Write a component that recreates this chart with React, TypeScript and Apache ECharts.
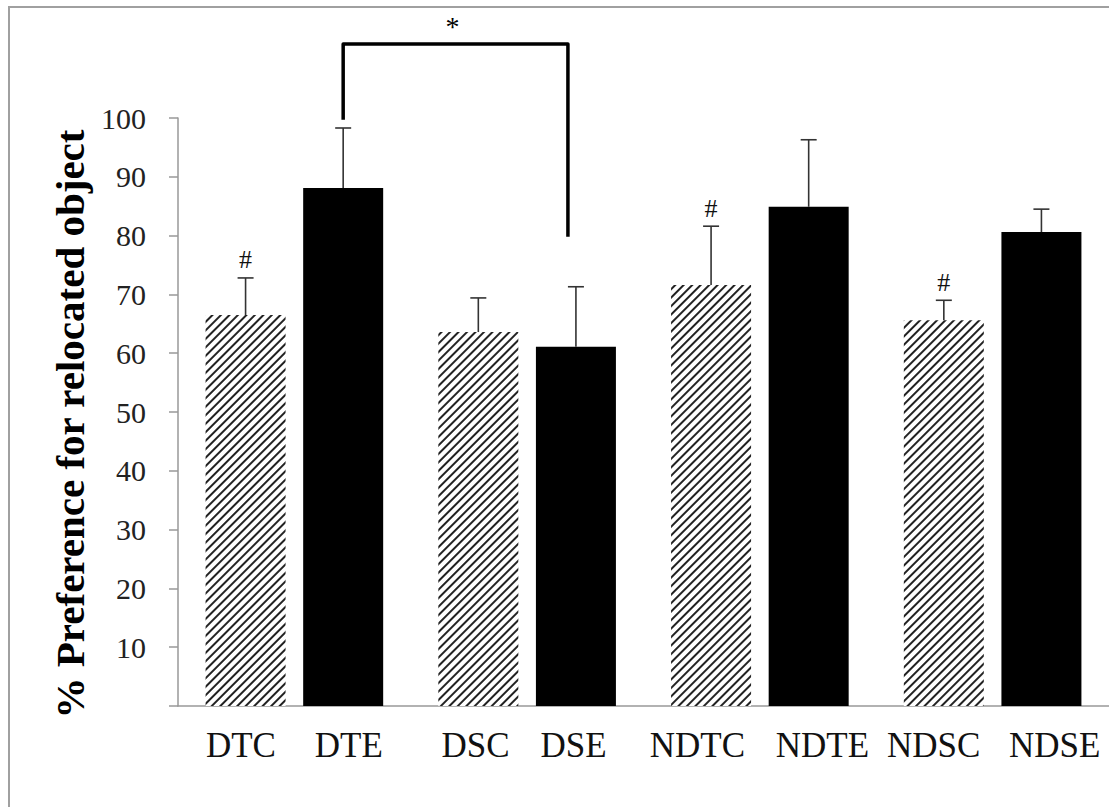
import React, { useEffect, useRef } from "react";
import * as echarts from "echarts";

// ---- data ----
const categories = ["DT", "DS", "NDT", "NDS"];
const tickLabels = ["DTC", "DTE", "DSC", "DSE", "NDTC", "NDTE", "NDSC", "NDSE"];
const yTicks = [10, 20, 30, 40, 50, 60, 70, 80, 90, 100];
const controlMeans = [66.5, 63.6, 71.6, 65.6];
const controlErrors = [6.3, 5.8, 10.0, 3.4];
const experimentalMeans = [88.1, 61.1, 84.9, 80.6];
const experimentalErrors = [10.2, 10.2, 11.4, 3.9];
const controlMarks = ["#", "", "#", "#"];
const experimentalMarks = ["", "", "", ""];
// significance bracket: DTE vs DSE
const bracketCats = [0, 1];
const bracketLevel = 112.6;
const bracketEnds = [99.7, 79.8];
const bracketLabel = "*";
const yTitle = "% Preference for relocated object";

// ---- layout / style ----
const FONT = "Liberation Serif, Times New Roman, serif";
const BAR_W = 80;
const BAR_GAP = 0.22;
const OFFSET = (BAR_W + BAR_W * BAR_GAP) / 2;
const LABEL_W = [
  [109, 107],
  [93, 103],
  [125, 125],
  [124, 118],
];

export default function App() {
  const ref = useRef<HTMLDivElement>(null);
  useEffect(() => {
    if (!ref.current) return;
    const chart = echarts.init(ref.current, null, { renderer: "svg" });

    const rich: any = {};
    LABEL_W.forEach((w, i) => {
      rich["l" + i] = { width: w[0], align: "center", fontFamily: FONT, fontSize: 35, color: "#111" };
      rich["r" + i] = { width: w[1], align: "center", fontFamily: FONT, fontSize: 35, color: "#111" };
    });

    const errData: any[] = [];
    categories.forEach((_, i) => {
      errData.push({ value: [i, controlMeans[i], controlErrors[i], 0], mark: controlMarks[i] });
      errData.push({ value: [i, experimentalMeans[i], experimentalErrors[i], 1], mark: experimentalMarks[i] });
    });

    const option: any = {
      animation: false,
      backgroundColor: "#fff",
      textStyle: { fontFamily: FONT },
      grid: { left: 178, right: -3, top: 118, bottom: 101 },
      graphic: [
        {
          type: "rect",
          silent: true,
          shape: { x: 9, y: 7, width: 1140, height: 840 },
          style: { fill: "none", stroke: "#a0a0a0", lineWidth: 2 },
        },
      ],
      xAxis: {
        type: "category",
        data: categories,
        axisLine: { lineStyle: { color: "#999", width: 1.5 } },
        axisTick: { show: false },
        axisLabel: {
          margin: 22,
          interval: 0,
          fontFamily: FONT,
          fontSize: 35,
          formatter: (_v: string, i: number) =>
            `{l${i}|${tickLabels[2 * i]}}{r${i}|${tickLabels[2 * i + 1]}}`,
          rich,
        },
      },
      yAxis: {
        type: "value",
        min: 0,
        max: 100,
        interval: 10,
        splitLine: { show: false },
        axisLine: { show: true, lineStyle: { color: "#999", width: 1.5 } },
        axisTick: { show: true, length: 9, lineStyle: { color: "#999", width: 1.5 } },
        axisLabel: {
          margin: 32,
          fontFamily: FONT,
          fontSize: 30,
          color: "#222",
          formatter: (v: number) => (yTicks.indexOf(v) >= 0 ? String(v) : ""),
        },
        name: yTitle,
        nameLocation: "middle",
        nameGap: 82,
        nameTextStyle: {
          fontFamily: FONT,
          fontWeight: "bold",
          fontSize: 41,
          color: "#000",
          padding: [0, 24, 0, 0],
        },
      },
      series: [
        {
          name: "Control",
          type: "bar",
          data: controlMeans,
          barWidth: BAR_W,
          barGap: BAR_GAP * 100 + "%",
          itemStyle: {
            color: "#fff",
            decal: {
              symbol: "rect",
              symbolSize: 1,
              dashArrayX: [1, 0],
              dashArrayY: [1.8, 3.8],
              rotation: -Math.PI / 4,
              color: "#222",
              backgroundColor: "#fff",
            },
          },
        },
        {
          name: "Experimental",
          type: "bar",
          data: experimentalMeans,
          barWidth: BAR_W,
          barGap: BAR_GAP * 100 + "%",
          itemStyle: { color: "#000" },
        },
        {
          name: "Error",
          type: "custom",
          z: 5,
          clip: false,
          data: errData,
          encode: { x: 0, y: 1 },
          renderItem: (params: any, api: any) => {
            const cat = api.value(0);
            const mean = api.value(1);
            const err = api.value(2);
            const side = api.value(3);
            const base = api.coord([cat, mean]);
            const top = api.coord([cat, mean + err]);
            const x = base[0] + (side === 0 ? -OFFSET : OFFSET);
            const mark = errData[params.dataIndex].mark;
            const children: any[] = [
              { type: "line", shape: { x1: x, y1: base[1], x2: x, y2: top[1] }, style: { stroke: "#333", lineWidth: 1.6 } },
              { type: "line", shape: { x1: x - 8, y1: top[1], x2: x + 8, y2: top[1] }, style: { stroke: "#333", lineWidth: 1.6 } },
            ];
            if (mark) {
              children.push({
                type: "text",
                style: {
                  text: mark,
                  x,
                  y: top[1] - 5,
                  align: "center",
                  verticalAlign: "bottom",
                  fontFamily: FONT,
                  fontSize: 26,
                  fill: "#111",
                },
              });
            }
            return { type: "group", children };
          },
        },
        {
          name: "Bracket",
          type: "custom",
          z: 6,
          clip: false,
          data: [[bracketCats[0], bracketCats[1], bracketLevel, bracketEnds[0], bracketEnds[1]]],
          encode: { x: [0, 1], y: [2, 3, 4] },
          renderItem: (_params: any, api: any) => {
            const p1 = api.coord([api.value(0), api.value(3)]);
            const p2 = api.coord([api.value(0), api.value(2)]);
            const p3 = api.coord([api.value(1), api.value(2)]);
            const p4 = api.coord([api.value(1), api.value(4)]);
            const xl = p1[0] + OFFSET;
            const xr = p3[0] + OFFSET - 8;
            return {
              type: "group",
              children: [
                {
                  type: "polyline",
                  shape: { points: [[xl, p1[1]], [xl, p2[1]], [xr, p3[1]], [xr, p4[1]]] },
                  style: { stroke: "#000", lineWidth: 3.5, fill: "none", lineJoin: "round" },
                },
                {
                  type: "text",
                  style: {
                    text: bracketLabel,
                    x: (xl + xr) / 2 - 3,
                    y: p2[1] - 3,
                    align: "center",
                    verticalAlign: "bottom",
                    fontFamily: FONT,
                    fontSize: 28,
                    fill: "#000",
                  },
                },
              ],
            };
          },
        },
      ],
    };
    chart.setOption(option);
    return () => chart.dispose();
  }, []);

  return (
    <div
      ref={ref}
      style={{ position: "fixed", left: 0, top: 0, width: 1109, height: 807 }}
    />
  );
}
